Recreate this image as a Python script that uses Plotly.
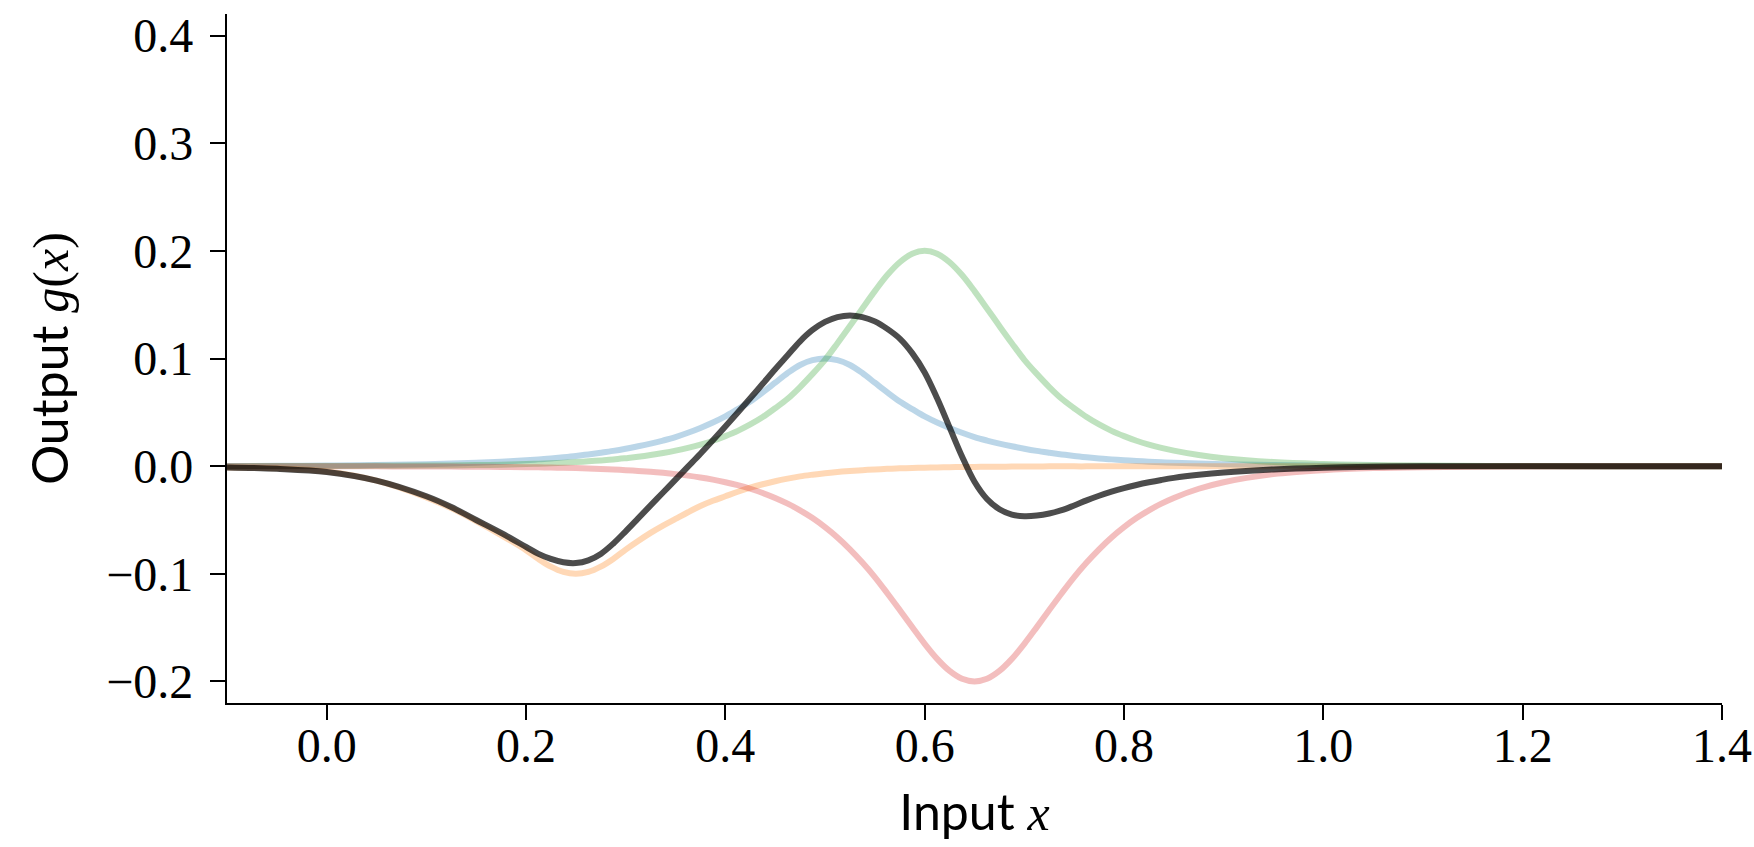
import plotly.graph_objects as go

# Sample positions along the input axis (finer spacing where the curves bend most)
x = [-0.1, -0.05, 0.0, 0.05, 0.1, 0.125, 0.15, 0.175,
     0.2, 0.2125, 0.225, 0.2375, 0.25, 0.2625, 0.275, 0.2875, 0.3, 0.3125,
     0.325, 0.3375, 0.35, 0.3625, 0.375, 0.3875, 0.4, 0.4125, 0.425, 0.4375,
     0.45, 0.4625, 0.475, 0.4875, 0.5, 0.5125, 0.525, 0.5375, 0.55, 0.5625,
     0.575, 0.5875, 0.6, 0.6125, 0.625, 0.6375, 0.65, 0.6625, 0.675, 0.6875,
     0.7, 0.7125, 0.725, 0.7375, 0.75,
     0.7625, 0.775, 0.7875, 0.8, 0.8125, 0.825, 0.8375, 0.85, 0.875, 0.9, 0.95,
     1.0, 1.05, 1.1, 1.2, 1.3, 1.4]

# Individual bump components
bump_blue = [0.0002, 0.0003, 0.0006, 0.001, 0.0018, 0.0024, 0.0031, 0.0042,
             0.0055, 0.0063, 0.0072, 0.0083, 0.0095, 0.0109, 0.0125, 0.0142, 0.0162, 0.0185,
             0.021, 0.0238, 0.027, 0.031, 0.0355, 0.0405, 0.0462, 0.053, 0.060, 0.0685,
             0.0775, 0.0865, 0.094, 0.0985, 0.100, 0.0985, 0.094, 0.0865, 0.0775, 0.0685,
             0.060, 0.053, 0.0462, 0.0405, 0.0355, 0.031, 0.027, 0.0238, 0.021, 0.0185,
             0.0162, 0.0142, 0.0125, 0.0109, 0.0095,
             0.0083, 0.0072, 0.0063, 0.0055, 0.0048, 0.0042, 0.0036, 0.0031, 0.0024, 0.0018, 0.001,
             0.0006, 0.0003, 0.0002, 0.0001, 0.0, 0.0]
bump_orange = [-0.0012, -0.002, -0.005, -0.0135, -0.029, -0.039, -0.051, -0.064,
               -0.078, -0.0862, -0.0934, -0.0983, -0.100, -0.0983, -0.0934, -0.0862, -0.0775, -0.0695,
               -0.062, -0.0552, -0.049, -0.0428, -0.037, -0.0322, -0.028, -0.0238, -0.020, -0.0168,
               -0.014, -0.0116, -0.0095, -0.0079, -0.0065, -0.0054, -0.0045, -0.0037, -0.003, -0.0025,
               -0.002, -0.0017, -0.0014, -0.0012, -0.001, -0.0008, -0.0007, -0.0006, -0.0005, -0.0004,
               -0.0003, -0.0003, -0.0002, -0.0002, -0.0002,
               -0.0002, -0.0001, -0.0001, -0.0001, 0.0, 0.0, 0.0, 0.0, 0.0, 0.0, 0.0,
               0.0, 0.0, 0.0, 0.0, 0.0, 0.0]
bump_green = [0.0, 0.0001, 0.0001, 0.0003, 0.0005, 0.0007, 0.001, 0.0014,
              0.002, 0.0023, 0.0027, 0.0032, 0.0038, 0.0045, 0.0053, 0.0062, 0.0074, 0.0087,
              0.0103, 0.0122, 0.0144, 0.017, 0.020, 0.0236, 0.0279, 0.0328, 0.0387, 0.0456,
              0.0538, 0.0626, 0.0735, 0.0857, 0.0988, 0.1142, 0.1302, 0.1465, 0.1626, 0.1775,
              0.1894, 0.1973, 0.200, 0.1973, 0.1894, 0.1775, 0.1626, 0.1465, 0.1302, 0.1142,
              0.0988, 0.0857, 0.0735, 0.0626, 0.0538,
              0.0456, 0.0387, 0.0328, 0.0279, 0.0236, 0.0200, 0.0170, 0.0144, 0.0103, 0.0074, 0.0038,
              0.002, 0.001, 0.0005, 0.0001, 0.0, 0.0]
bump_red = [0.0, 0.0, -0.0001, -0.0002, -0.0003, -0.0004, -0.0005, -0.0007,
            -0.0009, -0.0011, -0.0013, -0.0015, -0.0018, -0.0022, -0.0026, -0.0031, -0.0037, -0.0044,
            -0.0052, -0.0062, -0.0074, -0.0088, -0.0105, -0.0125, -0.0149, -0.0177, -0.0210, -0.0249,
            -0.0295, -0.0348, -0.0410, -0.0482, -0.0566, -0.0662, -0.0772, -0.0895, -0.1030, -0.1180,
            -0.1336, -0.1495, -0.1650, -0.1790, -0.1902, -0.1975, -0.200, -0.1975, -0.1902, -0.1790,
            -0.1650, -0.1495, -0.1336, -0.1180, -0.1030,
            -0.0895, -0.0772, -0.0662, -0.0566, -0.0482, -0.0410, -0.0348, -0.0295, -0.0210, -0.0149, -0.0074,
            -0.0037, -0.0018, -0.0009, -0.0002, -0.0001, 0.0]

# Combined output g(x)
g_total = [-0.0012, -0.0025, -0.0055, -0.0135, -0.028, -0.038, -0.050, -0.062,
           -0.075, -0.0815, -0.0862, -0.0893, -0.0900, -0.0875, -0.0815, -0.0720, -0.0605, -0.0485,
           -0.0365, -0.0245, -0.0125, -0.0005, 0.0115, 0.024, 0.0368, 0.0498, 0.063, 0.0765,
           0.090, 0.103, 0.116, 0.1265, 0.134, 0.1385, 0.140, 0.1385, 0.1345, 0.1275,
           0.1185, 0.105, 0.087, 0.063, 0.036, 0.009, -0.0145, -0.0305, -0.040, -0.045,
           -0.0465, -0.0459, -0.044, -0.0409, -0.0365,
           -0.0318, -0.0275, -0.0237, -0.0204, -0.0175, -0.0150, -0.0128, -0.0109, -0.0080, -0.0058, -0.0030,
           -0.0014, -0.0006, -0.0002, 0.0, 0.0, 0.0]

for series in (bump_blue, bump_orange, bump_green, bump_red, g_total):
    assert len(series) == len(x)

x_ticks = [0.0, 0.2, 0.4, 0.6, 0.8, 1.0, 1.2, 1.4]
x_tick_text = ["0.0", "0.2", "0.4", "0.6", "0.8", "1.0", "1.2", "1.4"]
y_ticks = [-0.2, -0.1, 0.0, 0.1, 0.2, 0.3, 0.4]
y_tick_text = ["\u22120.2", "\u22120.1", "0.0", "0.1", "0.2", "0.3", "0.4"]

components = [
    (bump_blue, "rgba(31,119,180,0.3)"),
    (bump_orange, "rgba(255,127,14,0.3)"),
    (bump_green, "rgba(44,160,44,0.3)"),
    (bump_red, "rgba(214,39,40,0.3)"),
]

fig = go.Figure()
for values, color in components:
    fig.add_trace(go.Scatter(
        x=x, y=values, mode="lines",
        line=dict(color=color, width=6, shape="spline", smoothing=1.0),
        showlegend=False, hoverinfo="skip",
    ))
fig.add_trace(go.Scatter(
    x=x, y=g_total, mode="lines",
    line=dict(color="rgba(0,0,0,0.7)", width=6, shape="spline", smoothing=1.0),
    showlegend=False,
))

serif = "Liberation Serif, Times New Roman, serif"
sans = "Lato, Roboto, DejaVu Sans, sans-serif"

axis_common = dict(
    showline=True, linecolor="black", linewidth=2.2,
    ticks="outside", ticklen=15, tickwidth=2.2, tickcolor="black",
    showgrid=False, zeroline=False, mirror=False, automargin=False,
    tickfont=dict(family=serif, size=48, color="black"),
)

fig.update_layout(
    width=1754, height=847,
    margin=dict(l=227, r=32, t=14, b=144, autoexpand=False),
    paper_bgcolor="white", plot_bgcolor="white",
    xaxis=dict(
        range=[-0.1, 1.4], tickvals=x_ticks, ticktext=x_tick_text,
        ticklabelstandoff=-16,
        title=dict(
            text="Input <span style='font-family:Liberation Serif'><i>x</i></span>",
            font=dict(family=sans, size=50, color="black"), standoff=24,
        ),
        **axis_common,
    ),
    yaxis=dict(
        range=[-0.22, 0.42], tickvals=y_ticks, ticktext=y_tick_text,
        ticklabelstandoff=7,
        title=dict(
            text="Output <span style='font-family:Liberation Serif'><i>g</i>(<i>x</i>)</span>",
            font=dict(family=sans, size=50, color="black"), standoff=22,
        ),
        **axis_common,
    ),
)

fig.write_html("out.html")
